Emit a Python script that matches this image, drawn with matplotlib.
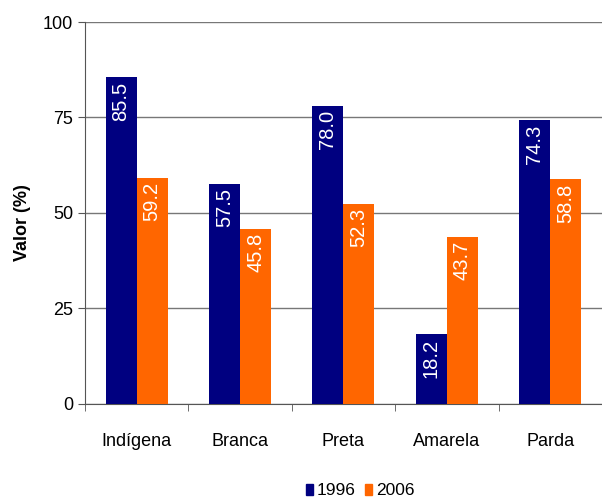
import matplotlib.pyplot as plt
import numpy as np
from matplotlib.patches import Patch

plt.rcParams['font.family'] = ['Liberation Sans', 'DejaVu Sans']

categories = ['Indígena', 'Branca', 'Preta', 'Amarela', 'Parda']
values_1996 = [85.5, 57.5, 78.0, 18.2, 74.3]
values_2006 = [59.2, 45.8, 52.3, 43.7, 58.8]
series = ['1996', '2006']
colors = ['#000080', '#FF6600']


def main():
    fig = plt.figure(figsize=(6.02, 5.01), dpi=100)
    ax = fig.add_axes([0.141, 0.194, 0.859, 0.762])

    x = np.arange(len(categories))
    w = 0.3
    for vals, off, c in [(values_1996, -w / 2, colors[0]), (values_2006, w / 2, colors[1])]:
        bars = ax.bar(x + off, vals, w, color=c, zorder=3)
        for b, v in zip(bars, vals):
            ax.annotate(f'{v:.1f}', (b.get_x() + b.get_width() / 2, v),
                        xytext=(0, -3), textcoords='offset points',
                        rotation=90, ha='center', va='top',
                        color='white', fontsize=14.5, zorder=4)

    ax.set_ylim(0, 100)
    ax.set_xlim(-0.5, 4.47)
    ax.set_yticks([0, 25, 50, 75, 100])
    ax.tick_params(axis='y', labelsize=13, length=5, color='#555555')
    ax.yaxis.grid(True, color='#777777', linewidth=1, zorder=0)

    ax.set_xticks(x)
    ax.set_xticklabels(categories, fontsize=13)
    ax.tick_params(axis='x', length=0, pad=21)
    ax.set_xticks(np.arange(-0.5, 4.6, 1), minor=True)
    ax.tick_params(axis='x', which='minor', length=5, color='#555555')

    ax.set_ylabel('Valor (%)', fontsize=13, fontweight='bold')
    ax.yaxis.set_label_coords(-0.104, 0.476)

    for s in ['top', 'right']:
        ax.spines[s].set_visible(False)
    for s in ['left', 'bottom']:
        ax.spines[s].set_color('#555555')

    handles = [Patch(color=c, label=l) for c, l in zip(colors, series)]
    fig.legend(handles=handles, loc='center', bbox_to_anchor=(0.598, 0.02),
               ncol=2, frameon=False, fontsize=12.5, handlelength=0.45,
               handleheight=0.6, handletextpad=0.2, columnspacing=0.5)

    fig.savefig('out.png', dpi=100)


if __name__ == '__main__':
    main()
